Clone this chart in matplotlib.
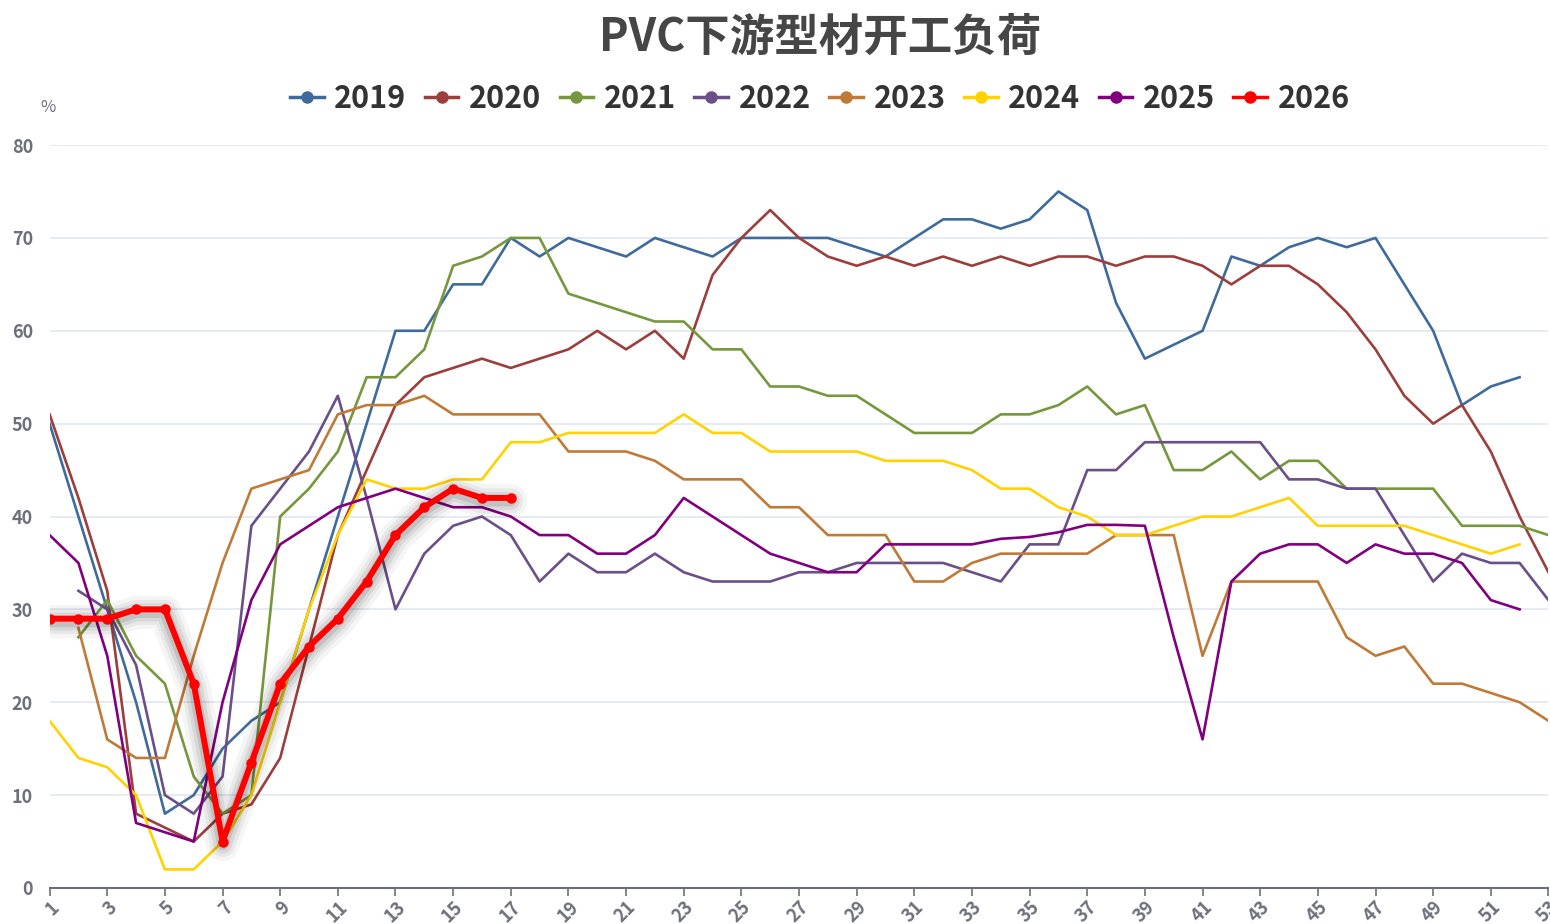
import matplotlib
matplotlib.use("Agg")
import matplotlib.pyplot as plt
import matplotlib.transforms as mtrans

plt.rcParams['font.family'] = ['Noto Sans CJK SC', 'DejaVu Sans']

weeks = list(range(1, 54))

# weekly load (%), None where a year has no value
y2019 = [50, 40, 30, 20, 8, 10, 15, 18, 20, 30, 40, 50, 60, 60, 65, 65, 70, 68, 70, 69,
         68, 70, 69, 68, 70, 70, 70, 70, 69, 68, 70, 72, 72, 71, 72, 75, 73, 63, 57, 58.5,
         60, 68, 67, 69, 70, 69, 70, 65, 60, 52, 54, 55, None]
y2020 = [51, 42, 32, 8, 6.5, 5, 8, 9, 14, 26, 38, 45, 52, 55, 56, 57, 56, 57, 58, 60,
         58, 60, 57, 66, 70, 73, 70, 68, 67, 68, 67, 68, 67, 68, 67, 68, 68, 67, 68, 68,
         67, 65, 67, 67, 65, 62, 58, 53, 50, 52, 47, 40, 34]
y2021 = [None, 27, 31, 25, 22, 12, 8, 10, 40, 43, 47, 55, 55, 58, 67, 68, 70, 70, 64, 63,
         62, 61, 61, 58, 58, 54, 54, 53, 53, 51, 49, 49, 49, 51, 51, 52, 54, 51, 52, 45,
         45, 47, 44, 46, 46, 43, 43, 43, 43, 39, 39, 39, 38]
y2022 = [None, 32, 30, 24, 10, 8, 12, 39, 43, 47, 53, 42, 30, 36, 39, 40, 38, 33, 36, 34,
         34, 36, 34, 33, 33, 33, 34, 34, 35, 35, 35, 35, 34, 33, 37, 37, 45, 45, 48, 48,
         48, 48, 48, 44, 44, 43, 43, 38, 33, 36, 35, 35, 31]
y2023 = [None, 28, 16, 14, 14, 25, 35, 43, 44, 45, 51, 52, 52, 53, 51, 51, 51, 51, 47, 47,
         47, 46, 44, 44, 44, 41, 41, 38, 38, 38, 33, 33, 35, 36, 36, 36, 36, 38, 38, 38,
         25, 33, 33, 33, 33, 27, 25, 26, 22, 22, 21, 20, 18]
y2024 = [18, 14, 13, 10, 2, 2, 5, 10, 20, 30, 38, 44, 43, 43, 44, 44, 48, 48, 49, 49,
         49, 49, 51, 49, 49, 47, 47, 47, 47, 46, 46, 46, 45, 43, 43, 41, 40, 38, 38, 39,
         40, 40, 41, 42, 39, 39, 39, 39, 38, 37, 36, 37, None]
y2025 = [38, 35, 25, 7, 6, 5, 20, 31, 37, 39, 41, 42, 43, 42, 41, 41, 40, 38, 38, 36,
         36, 38, 42, 40, 38, 36, 35, 34, 34, 37, 37, 37, 37, 37.6, 37.8, 38.3, 39.1, 39.1, 39, 27,
         16, 33, 36, 37, 37, 35, 37, 36, 36, 35, 31, 30, None]
y2026 = [29, 29, 29, 30, 30, 22, 5, 13.5, 22, 26, 29, 33, 38, 41, 43, 42, 42]

years = ['2019', '2020', '2021', '2022', '2023', '2024', '2025', '2026']
series = [y2019, y2020, y2021, y2022, y2023, y2024, y2025, y2026]
colors = ['#3f6b9c', '#9c3e3b', '#77973d', '#6a4f88', '#c07a38', '#ffd200', '#800080', '#ff0000']

fig = plt.figure(figsize=(15.5, 9.24), dpi=100)
ax = fig.add_axes([0.032, 0.039, 0.967, 0.804])

for name, vals, c in zip(years, series, colors):
    xs = weeks[:len(vals)]
    pts = [(x, v) for x, v in zip(xs, vals) if v is not None]
    px = [p[0] for p in pts]
    py = [p[1] for p in pts]
    if name == '2026':
        # soft shadow under the current year
        shadow = mtrans.offset_copy(ax.transData, fig=fig, x=0, y=-3, units='dots')
        for lw, a in [(24, 0.04), (18, 0.05), (13, 0.07), (8, 0.1)]:
            ax.plot(px, py, color='black', lw=lw, alpha=a, transform=shadow,
                    solid_joinstyle='round', solid_capstyle='round', zorder=8)
        ax.plot(px, py, color=c, lw=4.3, marker='o', markersize=6.5, zorder=10,
                solid_joinstyle='round')
    else:
        ax.plot(px, py, color=c, lw=1.9, zorder=3)

ax.set_xlim(1, 53)
ax.set_ylim(0, 80)
ax.set_xticks(range(1, 54, 2))
ax.set_xticklabels([str(w) for w in range(1, 54, 2)], rotation=45, ha='right',
                   rotation_mode='anchor', fontsize=13, color='#6e7079', fontweight='bold')
ax.set_yticks(range(0, 81, 10))
ax.set_yticklabels([str(v) for v in range(0, 81, 10)], fontsize=13,
                   color='#6e7079', fontweight='bold')
ax.tick_params(axis='y', length=0, pad=12)
ax.tick_params(axis='x', length=6, color='#6e7079', width=1.2, pad=1)
ax.grid(axis='y', color='#e0e6f1', lw=1.2)
ax.set_axisbelow(True)
for s in ['top', 'right', 'left']:
    ax.spines[s].set_visible(False)
ax.spines['bottom'].set_color('#6e7079')
ax.spines['bottom'].set_linewidth(1.5)

fig.text(0.529, 0.959, 'PVC下游型材开工负荷', ha='center', va='center',
         fontsize=32, fontweight='bold', color='#464646')
fig.text(0.031, 0.884, '%', ha='center', va='center', fontsize=12, color='#6e7079')

leg_handles = []
for c in colors:
    h, = ax.plot([], [], color=c, lw=2.5, marker='o', markersize=8)
    leg_handles.append(h)
fig.legend(leg_handles, years, loc='center', bbox_to_anchor=(0.529, 0.893), ncol=8,
           frameon=False, prop={'size': 22, 'weight': 'bold'}, handlelength=1.1,
           handletextpad=0.35, columnspacing=0.6, labelcolor='#333333')

fig.savefig('out.png', dpi=100)
